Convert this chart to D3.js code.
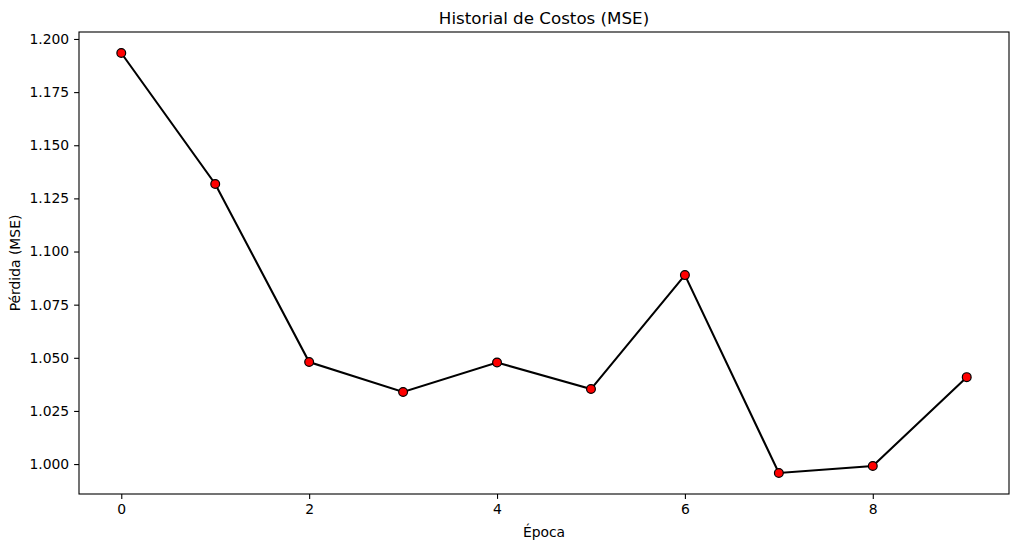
<!DOCTYPE html>
<html><head><meta charset="utf-8">
<script src="https://cdn.jsdelivr.net/npm/d3@7"></script>
<style>body{margin:0;background:#fff;} text{font-family:"DejaVu Sans",sans-serif;fill:#000;}</style>
</head><body><svg id="c" width="1018" height="549"></svg>
<script>
const epochs = [0,1,2,3,4,5,6,7,8,9];
const losses = [1.1934,1.1318,1.0480,1.0339,1.0478,1.0353,1.0889,0.9958,0.9991,1.0409];
const yTicks = [1.000,1.025,1.050,1.075,1.100,1.125,1.150,1.175,1.200];
const xTicks = [0,2,4,6,8];
const title = "Historial de Costos (MSE)";
const xLabel = "Época";
const yLabel = "Pérdida (MSE)";

const svg = d3.select("#c");
const L=79, R=1009, T=32, B=494;
const x = d3.scaleLinear().domain([-0.45,9.45]).range([L,R]);
const ymin=d3.min(losses), ymax=d3.max(losses), pad=(ymax-ymin)*0.05;
const y = d3.scaleLinear().domain([ymin-pad,ymax+pad]).range([B,T]);

const fs = "13.9px";
const xa = svg.append("g").attr("transform",`translate(0,${B})`)
  .call(d3.axisBottom(x).tickValues(xTicks).tickFormat(d3.format("d")).tickSize(4.9).tickPadding(4.9));
const ya = svg.append("g").attr("transform",`translate(${L},0)`)
  .call(d3.axisLeft(y).tickValues(yTicks).tickFormat(d3.format(".3f")).tickSize(4.9).tickPadding(4.9));
[xa,ya].forEach(a=>{a.select(".domain").remove();a.selectAll("text").style("font-size",fs).style("font-family","DejaVu Sans");a.selectAll("line").attr("stroke","#000").attr("stroke-width",1.1);});

svg.append("rect").attr("x",L).attr("y",T).attr("width",R-L).attr("height",B-T)
  .attr("fill","none").attr("stroke","#000").attr("stroke-width",1.1);

svg.append("path").datum(epochs.map((e,i)=>[e,losses[i]]))
  .attr("fill","none").attr("stroke","#000").attr("stroke-width",2.08)
  .attr("d",d3.line().x(d=>x(d[0])).y(d=>y(d[1])));
svg.selectAll("circle.p").data(epochs).enter().append("circle")
  .attr("cx",(d)=>x(d)).attr("cy",(d,i)=>y(losses[i])).attr("r",4.4)
  .attr("fill","#ff0000").attr("stroke","#000").attr("stroke-width",1.2);

svg.append("text").attr("x",(L+R)/2).attr("y",24).attr("text-anchor","middle").style("font-size","16.7px").text(title);
svg.append("text").attr("x",(L+R)/2).attr("y",537).attr("text-anchor","middle").style("font-size",fs).text(xLabel);
svg.append("text").attr("transform",`translate(20,${(T+B)/2}) rotate(-90)`).attr("text-anchor","middle").style("font-size",fs).text(yLabel);
</script></body></html>
